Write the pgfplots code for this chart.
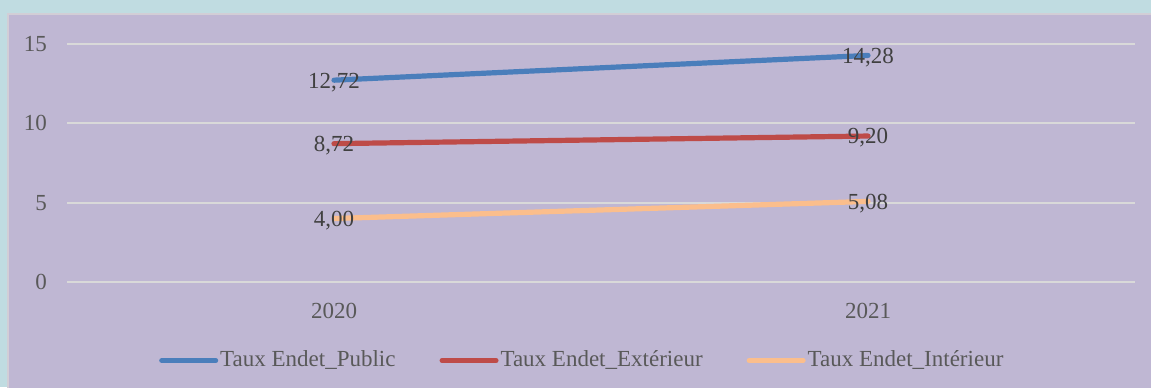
\documentclass[border=0pt]{standalone}
\usepackage{fontspec}
\setmainfont{Liberation Serif}
\usepackage{pgfplots}
\pgfplotsset{compat=1.18}
\definecolor{bgblue}{HTML}{C0DCE1}
\definecolor{bgpurple}{HTML}{BFB7D3}
\definecolor{bordergray}{HTML}{D2CED6}
\definecolor{gridgray}{HTML}{D9D9D9}
\definecolor{cblue}{HTML}{4A7EBB}
\definecolor{cred}{HTML}{BE4B48}
\definecolor{corange}{HTML}{FBBE8C}
\definecolor{ticktext}{HTML}{595959}
\definecolor{labeltext}{HTML}{404040}
\begin{document}
\fontsize{11.5}{13.5}\selectfont
\begin{tikzpicture}
\useasboundingbox (0,0) rectangle (575.5pt,193.5pt);
\fill[bgblue] (0,0) rectangle (575.5pt,193.5pt);
\begin{scope}
\clip (0,0) rectangle (575.5pt,193.5pt);
\fill[bgpurple,draw=bordergray,line width=0.8pt] (3.9pt,-1pt) rectangle (577pt,186.6pt);
\end{scope}
\begin{axis}[
  at={(33.5pt,52.5pt)}, anchor=south west,
  scale only axis, width=534pt, height=119pt,
  xmin=-0.5, xmax=1.5, ymin=0, ymax=15,
  xtick={0,1}, xticklabels={2020,2021},
  ytick={0,5,10,15},
  yticklabels={0,5,10,15},
  axis line style={draw=none},
  ymajorgrids, grid style={gridgray, line width=0.9pt},
  major tick style={draw=none},
  tick label style={font=\fontsize{11.5}{13.5}\selectfont, text=ticktext},
  yticklabel style={xshift=-6pt},
  xticklabel style={yshift=-6.5pt},
  clip=false,
  legend columns=3,
  legend style={draw=none, fill=none, at={(0.4825,-0.33)}, anchor=center,
    font=\fontsize{11.5}{13.5}\selectfont, text=ticktext,
    /tikz/every even column/.append style={column sep=21pt},
    nodes={inner sep=1pt}},
  legend image code/.code={\draw[#1, line width=2.5pt, line cap=round] (0pt,0pt) -- (27pt,0pt);},
  nodes near coords={\pgfmathprintnumber[use comma, fixed, fixed zerofill, precision=2, assume math mode=true]{\pgfplotspointmeta}},
  nodes near coords align={center},
  every node near coord/.append style={font=\fontsize{11.5}{13.5}\selectfont, text=labeltext, anchor=center, yshift=-1pt},
  point meta=explicit,
]
\addplot[cblue, line width=2.6pt, line cap=round] table[meta index=1] {
x meta
0 12.72
1 14.28
};
\addlegendentry{Taux Endet\_Public}
\addplot[cred, line width=2.6pt, line cap=round] table[meta index=1] {
x meta
0 8.72
1 9.20
};
\addlegendentry{Taux Endet\_Extérieur}
\addplot[corange, line width=2.6pt, line cap=round] table[meta index=1] {
x meta
0 4.00
1 5.08
};
\addlegendentry{Taux Endet\_Intérieur}
\end{axis}
\end{tikzpicture}
\end{document}
